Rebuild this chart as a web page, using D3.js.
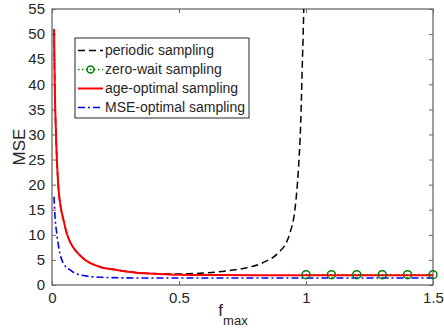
<!DOCTYPE html>
<html>
<head>
<meta charset="utf-8">
<script src="https://cdn.jsdelivr.net/npm/d3@7"></script>
<style>
  body { margin: 0; background: #fff; }
  text { font-family: "Liberation Sans", Arial, Helvetica, sans-serif; fill: #262626; }
</style>
</head>
<body>
<div id="chart"></div>
<script>
// DATA
var ageF   = [0.008, 0.011, 0.016, 0.025, 0.034, 0.045, 0.058, 0.071, 0.097, 0.123, 0.19, 0.255, 0.333, 0.42, 0.5, 0.6, 0.8, 1.0, 1.5];
var ageMSE = [51, 39.5, 29.5, 19.6, 15.6, 13, 10.3, 8.6, 6.6, 5.3, 3.6, 3.0, 2.45, 2.2, 2.05, 2.0, 1.95, 1.95, 1.95];

var mseF   = [0.008, 0.012, 0.0185, 0.031, 0.045, 0.071, 0.11, 0.19, 0.333, 0.6, 1.0, 1.5];
var mseMSE = [17.6, 13.5, 10.4, 6.3, 4.3, 3.0, 2.0, 1.55, 1.4, 1.4, 1.4, 1.4];

var perF   = [0.008, 0.011, 0.016, 0.025, 0.034, 0.045, 0.058, 0.071, 0.097, 0.123, 0.19, 0.255, 0.333, 0.42, 0.5, 0.583, 0.65, 0.714, 0.753, 0.78, 0.82, 0.845, 0.87, 0.895, 0.924, 0.937, 0.957, 0.97, 0.979, 0.985, 0.992, 0.995];
var perMSE = [51, 39.5, 29.5, 19.6, 15.6, 13, 10.3, 8.6, 6.6, 5.3, 3.6, 3.0, 2.45, 2.25, 2.2, 2.35, 2.6, 3.0, 3.3, 3.6, 4.2, 4.8, 5.5, 6.6, 8.6, 10.4, 15.3, 23, 32, 43, 58, 70];

var zwF   = [1.0, 1.1, 1.2, 1.3, 1.4, 1.5];
var zwMSE = [2.05, 2.05, 2.05, 2.05, 2.05, 2.05];

var xTicks = [0, 0.5, 1, 1.5];
var yTicks = d3.range(0, 56, 5);

var legendNames = ["periodic sampling", "zero-wait sampling", "age-optimal sampling", "MSE-optimal sampling"];

// SIZES
var W = 444, H = 330;
var plotL = 52, plotR = 433, plotT = 9, plotB = 285;

var svg = d3.select("#chart").append("svg")
    .attr("width", W)
    .attr("height", H);

var x = d3.scaleLinear().domain([0, 1.5]).range([plotL, plotR]);
var y = d3.scaleLinear().domain([0, 55]).range([plotB, plotT]);

svg.append("clipPath").attr("id", "clip")
  .append("rect")
    .attr("x", plotL).attr("y", plotT)
    .attr("width", plotR - plotL).attr("height", plotB - plotT);

// AXES (ticks inside, on all four sides)
var axisColor = "#6a6a6a";
var tl = 4;

var gx = svg.append("g")
    .attr("transform", "translate(0," + plotB + ")")
    .call(d3.axisBottom(x).tickValues(xTicks).tickSize(-tl).tickPadding(7)
      .tickFormat(function(d) { return d3.format("")(d); }));
var gxTop = svg.append("g")
    .attr("transform", "translate(0," + plotT + ")")
    .call(d3.axisTop(x).tickValues(xTicks).tickSize(-tl).tickFormat(""));
var gy = svg.append("g")
    .attr("transform", "translate(" + plotL + ",0)")
    .call(d3.axisLeft(y).tickValues(yTicks).tickSize(-tl).tickPadding(7));
var gyRight = svg.append("g")
    .attr("transform", "translate(" + plotR + ",0)")
    .call(d3.axisRight(y).tickValues(yTicks).tickSize(-tl).tickFormat(""));

[gx, gxTop, gy, gyRight].forEach(function(g) {
  g.select(".domain").remove();
  g.selectAll("line").attr("stroke", axisColor).attr("stroke-width", 1);
  g.selectAll("text").style("font-size", "15px")
    .style("font-family", "'Liberation Sans', Arial, sans-serif").attr("fill", "#262626");
});

svg.append("rect")
    .attr("x", plotL).attr("y", plotT)
    .attr("width", plotR - plotL).attr("height", plotB - plotT)
    .attr("fill", "none")
    .attr("stroke", axisColor)
    .attr("stroke-width", 1.3);

// AXIS LABELS
svg.append("text")
    .attr("transform", "translate(25," + ((plotT + plotB) / 2) + ") rotate(-90)")
    .attr("text-anchor", "middle")
    .style("font-size", "17px")
    .text("MSE");

var xl = svg.append("text")
    .attr("x", 233)
    .attr("y", 316)
    .attr("text-anchor", "middle")
    .style("font-size", "17px");
xl.append("tspan").text("f");
xl.append("tspan").attr("dy", 9).style("font-size", "13px").text("max");

// LINES
function pts(fs, vs) { return fs.map(function(f, i) { return [f, vs[i]]; }); }

var line = d3.line()
    .x(function(d) { return x(d[0]); })
    .y(function(d) { return y(d[1]); })
    .curve(d3.curveMonotoneX);

var plot = svg.append("g").attr("clip-path", "url(#clip)");

var series = [
  {name: legendNames[0], data: pts(perF, perMSE), color: "#000000", width: 1.5, dash: "7,4"},
  {name: legendNames[1], data: pts(zwF, zwMSE), color: "#008000", width: 1.5, dash: "1.5,2.5", marker: true},
  {name: legendNames[2], data: pts(ageF, ageMSE), color: "#ff0000", width: 2, dash: null},
  {name: legendNames[3], data: pts(mseF, mseMSE), color: "#0000ff", width: 1.6, dash: "7,3,2,3"}
];

series.forEach(function(s) {
  plot.append("path")
      .datum(s.data)
      .attr("fill", "none")
      .attr("stroke", s.color)
      .attr("stroke-width", s.width)
      .attr("stroke-dasharray", s.dash)
      .attr("d", line);
  if (s.marker) {
    svg.selectAll(null)
      .data(s.data)
      .enter()
      .append("circle")
        .attr("cx", function(d) { return x(d[0]); })
        .attr("cy", function(d) { return y(d[1]); })
        .attr("r", 4)
        .attr("fill", "none")
        .attr("stroke", s.color)
        .attr("stroke-width", 1.5);
  }
});

// LEGEND
var lx = 75, ly = 38, lw = 174, lh = 80, rowH = 19;
var legend = svg.append("g").attr("class", "legend");
legend.append("rect")
    .attr("x", lx).attr("y", ly)
    .attr("width", lw).attr("height", lh)
    .attr("fill", "#fff")
    .attr("stroke", "#262626")
    .attr("stroke-width", 1);

series.forEach(function(s, i) {
  var cy = ly + 12.5 + i * rowH;
  legend.append("line")
      .attr("x1", lx + 3).attr("x2", lx + 28)
      .attr("y1", cy).attr("y2", cy)
      .attr("stroke", s.color)
      .attr("stroke-width", s.width)
      .attr("stroke-dasharray", s.dash);
  if (s.marker) {
    legend.append("circle")
        .attr("cx", lx + 15.5).attr("cy", cy).attr("r", 3.5)
        .attr("fill", "none").attr("stroke", s.color).attr("stroke-width", 1.5);
  }
  legend.append("text")
      .attr("x", lx + 30).attr("y", cy)
      .attr("dy", "0.35em")
      .style("font-size", "14px")
      .attr("fill", "#000")
      .text(s.name);
});
</script>
</body>
</html>
